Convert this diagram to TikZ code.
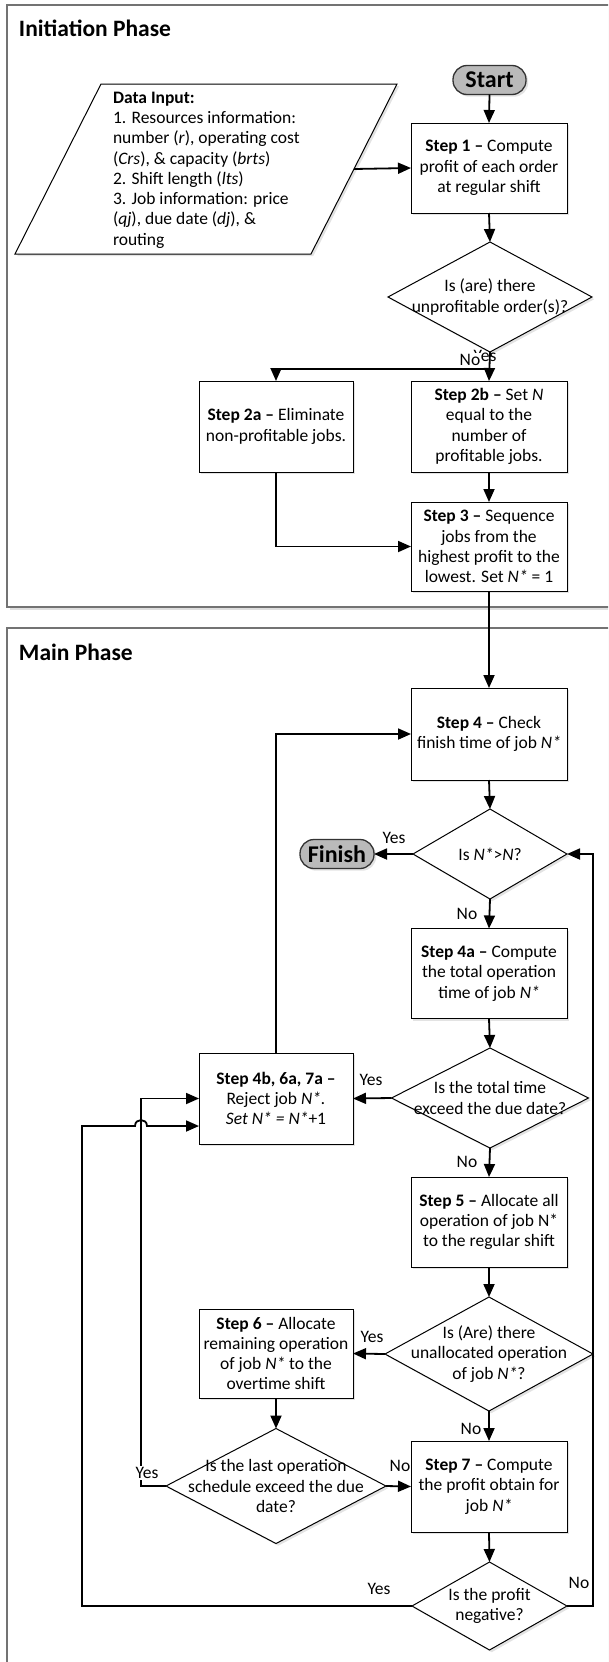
\documentclass[tikz,border=0pt]{standalone}
\usepackage{fontspec}
\setmainfont{Carlito}
\usetikzlibrary{arrows.meta,shapes.geometric,shadows,calc}
\begin{document}
\begin{tikzpicture}[x=1pt,y=-1pt,
  font=\fontsize{17.5}{20.3}\selectfont,
  every node/.style={outer sep=0pt},
  shad/.style={drop shadow={shadow xshift=2.2pt,shadow yshift=-2.2pt,opacity=0.22}},
  stepbox/.style={draw=black,line width=1pt,fill=white,shad,minimum width=156pt,minimum height=90pt,inner sep=0pt,align=center},
  decis/.style={diamond,draw=black,line width=1pt,fill=white,shad,inner sep=0pt},
  term/.style={rounded corners=14pt,draw=black!80,line width=1.3pt,fill=black!27,shad,minimum width=73pt,minimum height=29pt,inner sep=0pt,font=\fontsize{24}{28}\selectfont\bfseries},
  txt/.style={align=center,inner sep=0pt},
  lab/.style={inner sep=0pt},
  conn/.style={line width=1.8pt,line join=miter},
  arr/.style={conn,-{Triangle[length=13pt,width=11pt]}},
  frame/.style={draw=black!55,line width=1.5pt,fill=white,drop shadow={shadow xshift=2.5pt,shadow yshift=-2.5pt,opacity=0.25}},
  title/.style={anchor=west,inner sep=0pt,font=\fontsize{23.5}{28}\selectfont\bfseries}]

\useasboundingbox (0,0) rectangle (608,1662);
\clip (0,0) rectangle (608,1662);
\fill[white] (0,0) rectangle (608,1662);

% phase frames
\draw[frame] (7,5) rectangle (660,607);
\draw[frame] (7,628) rectangle (660,1720);
\node[title] (t1) at (19,28) {Initiation Phase};
\node[title] (t2) at (19,652) {Main Phase};

% data input parallelogram
\coordinate (pa) at (101,84);
\coordinate (pb) at (397,84);
\coordinate (pc) at (311,254);
\coordinate (pd) at (15,254);
\coordinate (pout) at (354,169);
\draw[line width=1pt,fill=white,shad] (pa) -- (pb) -- (pc) -- (pd) -- cycle;
\node[anchor=west,align=left,inner sep=0pt] (din) at (113,170) {\textbf{Data Input:}\\1. Resources information:\\number (\textit{r}), operating cost\\(\textit{Crs}), \& capacity (\textit{brts})\\2. Shift length (\textit{lts})\\3. Job information: price\\(\textit{qj}), due date (\textit{dj}), \&\\routing};

% initiation phase nodes
\node[term] (start) at (489.5,80) {Start};
\node[stepbox] (s1) at (489,168) {\textbf{Step 1 –} Compute\\profit of each order\\at regular shift};
\node[decis,minimum width=204pt,minimum height=110pt] (d1) at (490,297) {};
\node[txt] (d1t) at (d1) {Is (are) there\\unprofitable order(s)?};
\node[stepbox,minimum width=154pt,minimum height=91pt] (s2a) at (276,426.5) {\textbf{Step 2a –} Eliminate\\non-profitable jobs.};
\node[stepbox,minimum height=91pt] (s2b) at (489,426.5) {\textbf{Step 2b –} Set \textit{N}\\equal to the\\number of\\profitable jobs.};
\node[stepbox,minimum height=89pt] (s3) at (489,546.5) {\textbf{Step 3 –} Sequence\\jobs from the\\highest profit to the\\lowest. Set \textit{N*} = 1};

% main phase nodes
\node[stepbox,minimum height=92pt] (s4) at (489,734) {\textbf{Step 4 –} Check\\finish time of job \textit{N*}};
\node[decis,minimum width=154pt,minimum height=90pt] (d2) at (490,854) {};
\node[txt] (d2t) at (d2) {Is \textit{N*}>\textit{N}?};
\node[term,minimum width=74pt] (fin) at (337,854) {Finish};
\node[stepbox] (s4a) at (489,973.5) {\textbf{Step 4a –} Compute\\the total operation\\time of job \textit{N*}};
\node[decis,minimum width=197pt,minimum height=100pt] (d3) at (490,1098) {};
\node[txt] (d3t) at (d3) {Is the total time\\exceed the due date?};
\node[stepbox,minimum width=154pt,minimum height=91pt] (s4b) at (276,1098.5) {\textbf{Step 4b, 6a, 7a –}\\Reject job \textit{N*.}\\\textit{Set N* = N*}+1};
\node[stepbox] (s5) at (489,1222) {\textbf{Step 5 –} Allocate all\\operation of job N*\\to the regular shift};
\node[decis,minimum width=208pt,minimum height=114pt] (d4) at (489,1354) {};
\node[txt] (d4t) at (d4) {Is (Are) there\\unallocated operation\\of job \textit{N*}?};
\node[stepbox,minimum width=154pt,minimum height=89pt] (s6) at (276,1353.5) {\textbf{Step 6 –} Allocate\\remaining operation\\of job \textit{N*} to the\\overtime shift};
\node[decis,minimum width=220pt,minimum height=115pt] (d5) at (276,1486) {};
\node[txt] (d5t) at (d5) {Is the last operation\\schedule exceed the due\\date?};
\node[stepbox,minimum height=91pt] (s7) at (489,1486.5) {\textbf{Step 7 –} Compute\\the profit obtain for\\job \textit{N*}};
\node[decis,minimum width=155pt,minimum height=88pt] (d6) at (489.5,1606) {};
\node[txt] (d6t) at (d6) {Is the profit\\negative?};

% helper coordinates
\coordinate (j1) at (490,369);
\coordinate (xa) at (141,0);
\coordinate (xb) at (82,0);
\coordinate (xr) at (593,0);
\coordinate (yb) at (0,1126);
\coordinate (hop1) at (135,1126);
\coordinate (hop2) at (147,1126);

% connectors
\draw[arr] (start.south) -- (s1.north);
\draw[arr] (pout) -- (s1.west);
\draw[arr] (s1.south) -- (d1.north);
\draw[arr] (d1.south) -- (s2b.north);
\draw[arr] (j1) -| (s2a.north);
\draw[arr] (s2b.south) -- (s3.north);
\draw[arr] (s2a.south) |- (s3.west);
\draw[arr] (s3.south) -- (s4.north);
\draw[arr] (s4.south) -- (d2.north);
\draw[arr] (d2.west) -- (fin.east);
\draw[arr] (d2.south) -- (s4a.north);
\draw[arr] (s4a.south) -- (d3.north);
\draw[arr] (d3.west) -- (s4b.east);
\draw[arr] (d3.south) -- (s5.north);
\draw[arr] (s5.south) -- (d4.north);
\draw[arr] (d4.west) -- (s6.east);
\draw[arr] (d4.south) -- (s7.north);
\draw[arr] (s6.south) -- (d5.north);
\draw[arr] (d5.east) -- (s7.west);
\draw[arr] (s7.south) -- (d6.north);
\draw[arr] (s4b.north) |- (s4.west);
\draw[arr] (d5.west) -- (d5.west -| xa) -- (s4b.west -| xa) -- (s4b.west);
\draw[arr] (d6.west) -- (d6.west -| xb) -- (xb |- yb) -- (hop1) .. controls (135,1118) and (147,1118) .. (hop2) -- (s4b.west |- yb);
\draw[arr] (d6.east) -- (d6.east -| xr) -- (d2.east -| xr) -- (d2.east);

% labels
\node[lab] (y1) at (485,356) {Yes};
\node[lab,fill=white,inner sep=1pt] (n1) at (470,360) {No};
\node[lab] (y2) at (394,838) {Yes};
\node[lab] (n2) at (467,914) {No};
\node[lab] (y3) at (371,1080) {Yes};
\node[lab] (n3) at (467,1162) {No};
\node[lab] (y4) at (372,1337) {Yes};
\node[lab] (n4) at (471,1429) {No};
\node[lab] (n5) at (400,1466) {No};
\node[lab,fill=white,inner sep=1pt] (y5) at (147,1473) {Yes};
\node[lab] (y6) at (379,1589) {Yes};
\node[lab] (n6) at (579,1583) {No};
\end{tikzpicture}
\end{document}
